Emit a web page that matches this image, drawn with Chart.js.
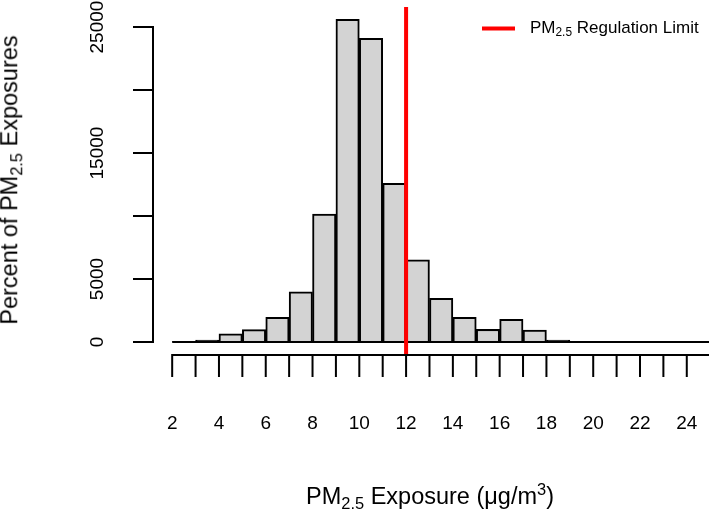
<!DOCTYPE html>
<html>
<head>
<meta charset="utf-8">
<script src="https://cdn.jsdelivr.net/npm/chart.js@4"></script>
<style>
  body { margin: 0; background: #fff; font-family: "Liberation Sans", Arial, sans-serif; }
  #wrap { position: relative; width: 709px; height: 512px; }
  .lbl { position: absolute; white-space: nowrap; line-height: 1; color: #000; }
  sub, sup { font-size: 70%; line-height: 0; }
  sub { vertical-align: -0.3em; }
  sup { vertical-align: 0.55em; }
</style>
</head>
<body>
<div id="wrap">
  <canvas id="myChart" width="709" height="512"></canvas>
  <div class="lbl" id="ytitle" style="font-size:23.5px; left:10px; top:180px; transform: translate(-50%,-50%) rotate(-90deg);">Percent of PM<sub>2.5</sub> Exposures</div>
  <div class="lbl" id="xtitle" style="font-size:23.5px; left:430px; top:497px; transform: translate(-50%,-50%);">PM<sub>2.5</sub> Exposure (&mu;g/m<sup>3</sup>)</div>
  <div class="lbl" id="legend" style="font-size:17px; left:482px; top:27px; transform: translateY(-50%);">
    <span style="display:inline-block; width:33px; height:4px; background:#ff0000; vertical-align:middle; margin-right:15px;"></span>PM<sub>2.5</sub> Regulation Limit
  </div>
</div>
<script>
// histogram bins (1 ug/m3 wide), left edges and counts
const binStart = [2, 3, 4, 5, 6, 7, 8, 9, 10, 11, 12, 13, 14, 15, 16, 17, 18, 19, 20, 21, 22, 23, 24]
const counts = [30, 150, 660, 980, 1960, 3990, 10160, 25620, 24110, 12600, 6530, 3470, 1960, 1000, 1800, 950, 150, 30, 20, 0, 0, 0, 0]

const limit = 12 // regulation limit

const yTicks = [0, 5000, 10000, 15000, 20000, 25000]
const yTickLabels = ['0', '5000', '', '15000', '', '25000']
const xTicks = [2, 3, 4, 5, 6, 7, 8, 9, 10, 11, 12, 13, 14, 15, 16, 17, 18, 19, 20, 21, 22, 23, 24, 25]
const xTickLabels = ['2', '', '4', '', '6', '', '8', '', '10', '', '12', '', '14', '', '16', '', '18', '', '20', '', '22', '', '24', '']

const yMin = -1030, yMax = 26590
const xMin = 1.18, xMax = 24.95

// R style axes drawn off the chart's scales
const rAxes = {
  id: 'rAxes',
  afterDraw(chart) {
    const ctx = chart.ctx
    const x = chart.scales.x, y = chart.scales.y
    const area = chart.chartArea
    ctx.save()
    ctx.strokeStyle = '#000'
    ctx.fillStyle = '#000'
    ctx.lineWidth = 2
    ctx.lineCap = 'butt'

    // y axis
    const yx = area.left
    ctx.beginPath()
    ctx.moveTo(yx, y.getPixelForValue(yTicks[0]) + 1)
    ctx.lineTo(yx, y.getPixelForValue(yTicks[yTicks.length - 1]) - 1)
    yTicks.forEach(v => {
      const py = y.getPixelForValue(v)
      ctx.moveTo(yx, py)
      ctx.lineTo(yx - 20, py)
    })
    ctx.stroke()
    ctx.font = '19px "Liberation Sans", Arial, sans-serif'
    ctx.textAlign = 'center'
    ctx.textBaseline = 'middle'
    yTicks.forEach((v, i) => {
      if (!yTickLabels[i]) return
      ctx.save()
      ctx.translate(97, y.getPixelForValue(v))
      ctx.rotate(-Math.PI / 2)
      ctx.fillText(yTickLabels[i], 0, 1)
      ctx.restore()
    })

    // x axis
    const xy = area.bottom
    ctx.beginPath()
    ctx.moveTo(x.getPixelForValue(xTicks[0]) - 1, xy)
    ctx.lineTo(area.right, xy)
    xTicks.forEach(v => {
      const px = x.getPixelForValue(v)
      if (px > area.right) return
      ctx.moveTo(px, xy)
      ctx.lineTo(px, xy + 22)
    })
    ctx.stroke()
    xTicks.forEach((v, i) => {
      if (!xTickLabels[i]) return
      ctx.fillText(xTickLabels[i], x.getPixelForValue(v), 424)
    })
    ctx.restore()
  }
}

function chartIt(){
  const ctx = document.getElementById('myChart')

  new Chart(ctx, {
    type: 'bar',
    data: {
      datasets: [{
        label: 'line at limit',
        type: 'line',
        data: [{x: limit, y: yMin}, {x: limit, y: yMax}],
        borderColor: '#ff0000',
        borderWidth: 4,
        pointRadius: 0,
        order: 0
      }, {
        label: 'baseline',
        type: 'line',
        data: [{x: binStart[0], y: 0}, {x: xMax + 1, y: 0}],
        borderColor: '#000',
        borderWidth: 2,
        pointRadius: 0,
        order: 1
      }, {
        label: 'Exposures',
        data: binStart.map((b, i) => ({x: b + 0.5, y: counts[i]})),
        backgroundColor: '#d3d3d3',
        borderColor: '#000',
        borderWidth: 2,
        barPercentage: 1,
        categoryPercentage: 1,
        grouped: false,
        order: 2
      }]
    },
    options: {
      responsive: false,
      animation: false,
      layout: { padding: { left: 153, top: 7, right: 0, bottom: 157 } },
      plugins: { legend: { display: false }, tooltip: { enabled: false } },
      scales: {
        x: { type: 'linear', min: xMin, max: xMax, offset: false, display: false },
        y: { min: yMin, max: yMax, display: false }
      }
    },
    plugins: [rAxes]
  })
}

chartIt()
</script>
</body>
</html>
